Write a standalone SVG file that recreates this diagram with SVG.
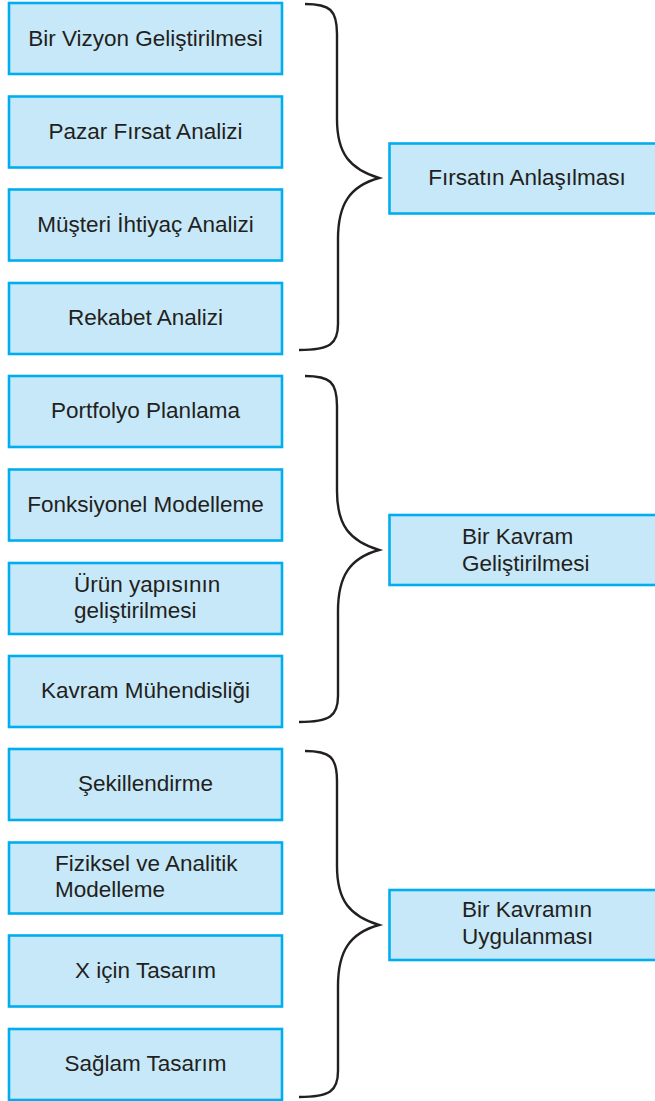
<svg xmlns="http://www.w3.org/2000/svg" xmlns:xlink="http://www.w3.org/1999/xlink" width="655" height="1101" viewBox="0 0 655 1101">
<style>
.box{fill:#C7E8F8;stroke:#00AEEF;stroke-width:2.6}
.t{font-family:"Liberation Sans",Arial,sans-serif;font-size:22.5px;fill:#231F20}
.c{text-anchor:middle}
.brace{fill:none;stroke:#231F20;stroke-width:2.4;stroke-linecap:butt}
</style>
<defs>
<path id="br" d="M305,0 C330,0 337,6 337,30 L337,115 C337,150 350,165 379,174 C350,182 338,200 338,235 L338,320 C338,340 330,346 299,346"/>
</defs>
<rect width="655" height="1101" fill="#fff"/>
<g id="n1"><rect class="box" x="9" y="3" width="273" height="71"/><text class="t c" x="145.5" y="45.5">Bir Vizyon Geliştirilmesi</text></g>
<g id="n2"><rect class="box" x="9" y="96.5" width="273" height="71"/><text class="t c" x="145.5" y="138.5">Pazar Fırsat Analizi</text></g>
<g id="n3"><rect class="box" x="9" y="189.5" width="273" height="71"/><text class="t c" x="145.5" y="231.5">Müşteri İhtiyaç Analizi</text></g>
<g id="n4"><rect class="box" x="9" y="283" width="273" height="71"/><text class="t c" x="145.5" y="325">Rekabet Analizi</text></g>
<g id="n5"><rect class="box" x="9" y="376" width="273" height="71"/><text class="t c" x="145.5" y="418">Portfolyo Planlama</text></g>
<g id="n6"><rect class="box" x="9" y="469.5" width="273" height="71"/><text class="t c" x="145.5" y="511.5">Fonksiyonel Modelleme</text></g>
<g id="n7"><rect class="box" x="9" y="563" width="273" height="71"/><text class="t" x="74" y="592">Ürün yapısının</text><text class="t" x="74" y="617.5">geliştirilmesi</text></g>
<g id="n8"><rect class="box" x="9" y="656" width="273" height="71"/><text class="t c" x="145.5" y="698">Kavram Mühendisliği</text></g>
<g id="n9"><rect class="box" x="9" y="749" width="273" height="71"/><text class="t c" x="145.5" y="791">Şekillendirme</text></g>
<g id="n10"><rect class="box" x="9" y="842.5" width="273" height="71"/><text class="t" x="55" y="871">Fiziksel ve Analitik</text><text class="t" x="55" y="897">Modelleme</text></g>
<g id="n11"><rect class="box" x="9" y="935.5" width="273" height="71"/><text class="t c" x="145.5" y="977.5">X için Tasarım</text></g>
<g id="n12"><rect class="box" x="9" y="1029" width="273" height="71"/><text class="t c" x="145.5" y="1071">Sağlam Tasarım</text></g>
<g id="r1"><rect class="box" x="389.5" y="143.5" width="280" height="70"/><text class="t c" x="527" y="185">Fırsatın Anlaşılması</text></g>
<g id="r2"><rect class="box" x="389.5" y="515" width="280" height="70"/><text class="t" x="462" y="543.5">Bir Kavram</text><text class="t" x="462" y="570.5">Geliştirilmesi</text></g>
<g id="r3"><rect class="box" x="389.5" y="890" width="280" height="70"/><text class="t" x="462" y="917">Bir Kavramın</text><text class="t" x="462" y="944">Uygulanması</text></g>
<g id="connectors">
<use xlink:href="#br" href="#br" class="brace" transform="translate(0,4)"/>
<use xlink:href="#br" href="#br" class="brace" transform="translate(0,376)"/>
<use xlink:href="#br" href="#br" class="brace" transform="translate(0,751)"/>
</g>
</svg>
